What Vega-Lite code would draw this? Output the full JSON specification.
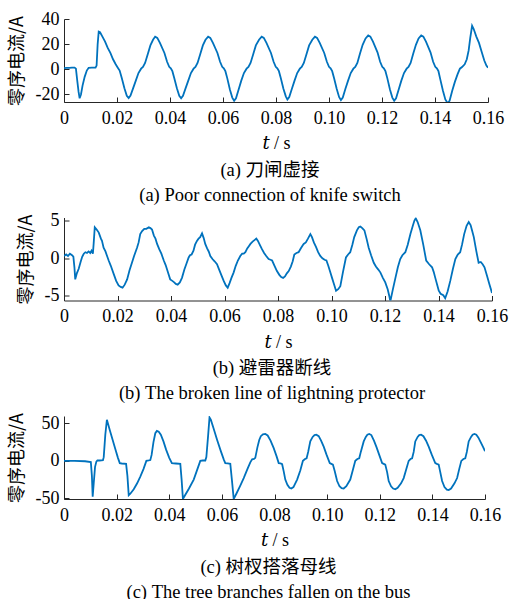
{
"$schema": "https://vega.github.io/schema/vega-lite/v6.json",
"padding": {"top": 10, "left": 8, "right": 5, "bottom": 0},
"spacing": 115.5,
"bounds": "flush",
"datasets": {
"a": [
{"t":0,"i":1},{"t":0.001,"i":1.2},{"t":0.002,"i":1.1},{"t":0.003,"i":1.3},{"t":0.004,"i":1.4},{"t":0.0045,"i":0.5},{"t":0.005,"i":-9},{"t":0.0055,"i":-18},{"t":0.0059,"i":-23},{"t":0.0064,"i":-20},{"t":0.007,"i":-13},{"t":0.0078,"i":-6},{"t":0.0086,"i":-1},{"t":0.0093,"i":1.2},{"t":0.0105,"i":1.3},{"t":0.0119,"i":1.3},{"t":0.0123,"i":3},{"t":0.0127,"i":20},{"t":0.0131,"i":30},{"t":0.0136,"i":29.5},{"t":0.0145,"i":26},{"t":0.0155,"i":22},{"t":0.0165,"i":17},{"t":0.0175,"i":13},{"t":0.0185,"i":8},{"t":0.0195,"i":4},{"t":0.0203,"i":1.3},{"t":0.021,"i":-1},{"t":0.0218,"i":-7},{"t":0.0228,"i":-15},{"t":0.0237,"i":-21},{"t":0.0244,"i":-22.8},
{"t":0.0251,"i":-20.8},{"t":0.0261,"i":-15},{"t":0.0271,"i":-9},{"t":0.0281,"i":-3},{"t":0.0291,"i":0.5},{"t":0.0298,"i":1.8},{"t":0.0306,"i":5},{"t":0.0316,"i":12},{"t":0.0326,"i":19},{"t":0.0336,"i":23.5},{"t":0.0344,"i":26},
{"t":0.0352,"i":25},{"t":0.0362,"i":21},{"t":0.0379,"i":13},{"t":0.0389,"i":6},{"t":0.0397,"i":2},{"t":0.0403,"i":0.8},{"t":0.0409,"i":-1.5},{"t":0.0416,"i":-7},{"t":0.0426,"i":-15},{"t":0.0435,"i":-21},{"t":0.0442,"i":-23},
{"t":0.0449,"i":-21},{"t":0.0459,"i":-15},{"t":0.0469,"i":-9},{"t":0.0479,"i":-3},{"t":0.0489,"i":0.5},{"t":0.0496,"i":1.8},{"t":0.0504,"i":5},{"t":0.0514,"i":12},{"t":0.0524,"i":19},{"t":0.0534,"i":23.5},{"t":0.0544,"i":26},
{"t":0.0552,"i":25},{"t":0.0562,"i":21},{"t":0.0579,"i":13},{"t":0.0589,"i":6},{"t":0.0597,"i":2},{"t":0.0603,"i":0.8},{"t":0.0609,"i":-1.5},{"t":0.0616,"i":-7},{"t":0.0626,"i":-16},{"t":0.0635,"i":-22.5},{"t":0.0642,"i":-25},
{"t":0.0649,"i":-23},{"t":0.0659,"i":-16},{"t":0.0669,"i":-9},{"t":0.0679,"i":-3},{"t":0.0689,"i":0.5},{"t":0.0696,"i":1.8},{"t":0.0704,"i":5},{"t":0.0714,"i":12},{"t":0.0724,"i":19},{"t":0.0736,"i":23.5},{"t":0.0746,"i":26},
{"t":0.0754,"i":25},{"t":0.0764,"i":21},{"t":0.0781,"i":13},{"t":0.0791,"i":6},{"t":0.0799,"i":2},{"t":0.0805,"i":0.8},{"t":0.0811,"i":-1.5},{"t":0.0818,"i":-7},{"t":0.0828,"i":-15.5},{"t":0.0837,"i":-21.5},{"t":0.0843,"i":-24},
{"t":0.085,"i":-22},{"t":0.086,"i":-15.5},{"t":0.087,"i":-9},{"t":0.088,"i":-3},{"t":0.089,"i":0.5},{"t":0.0897,"i":1.8},{"t":0.0905,"i":5},{"t":0.0915,"i":12},{"t":0.0925,"i":19},{"t":0.0937,"i":23.5},{"t":0.0947,"i":26},
{"t":0.0955,"i":25},{"t":0.0965,"i":21},{"t":0.0982,"i":13},{"t":0.0992,"i":6},{"t":0.1,"i":2},{"t":0.1006,"i":0.8},{"t":0.1012,"i":-1.5},{"t":0.1019,"i":-7},{"t":0.1029,"i":-15.5},{"t":0.1038,"i":-22},{"t":0.1045,"i":-24.5},
{"t":0.1052,"i":-22.5},{"t":0.1062,"i":-15.5},{"t":0.1072,"i":-9},{"t":0.1082,"i":-3},{"t":0.1092,"i":0.5},{"t":0.1099,"i":1.8},{"t":0.1107,"i":5},{"t":0.1117,"i":12.5},{"t":0.1127,"i":19.5},{"t":0.1138,"i":24.5},{"t":0.1148,"i":27},
{"t":0.1156,"i":26},{"t":0.1166,"i":22},{"t":0.1183,"i":13.5},{"t":0.1193,"i":6},{"t":0.1201,"i":2},{"t":0.1207,"i":0.8},{"t":0.1213,"i":-1.5},{"t":0.122,"i":-7},{"t":0.123,"i":-16},{"t":0.1239,"i":-22.5},{"t":0.1246,"i":-25},
{"t":0.1253,"i":-23},{"t":0.1263,"i":-16},{"t":0.1273,"i":-9},{"t":0.1283,"i":-3},{"t":0.1293,"i":0.5},{"t":0.13,"i":1.8},{"t":0.1308,"i":5},{"t":0.1318,"i":12.5},{"t":0.1328,"i":19.5},{"t":0.1338,"i":24.5},{"t":0.1348,"i":27},
{"t":0.1356,"i":26},{"t":0.1366,"i":22},{"t":0.1383,"i":13.5},{"t":0.1393,"i":6},{"t":0.1401,"i":2},{"t":0.1407,"i":0.8},{"t":0.1413,"i":-1.5},{"t":0.142,"i":-8},{"t":0.143,"i":-17},{"t":0.1439,"i":-24},{"t":0.1448,"i":-27},
{"t":0.1455,"i":-25},{"t":0.1465,"i":-17},{"t":0.1475,"i":-10},{"t":0.1485,"i":-4},{"t":0.1494,"i":0.5},{"t":0.1502,"i":1.8},{"t":0.1512,"i":4},{"t":0.152,"i":8},{"t":0.1527,"i":15},{"t":0.1533,"i":25},{"t":0.154,"i":34.6},{"t":0.1546,"i":32},{"t":0.1556,"i":26},{"t":0.1566,"i":21},{"t":0.1576,"i":14},{"t":0.1586,"i":7},{"t":0.1594,"i":3},{"t":0.16,"i":1.3}
],
"b": [
{"t":0,"i":0.3},{"t":0.0008,"i":0.5},{"t":0.0015,"i":0.3},{"t":0.0022,"i":0.6},{"t":0.003,"i":0.4},{"t":0.0035,"i":0.2},{"t":0.0039,"i":-1.2},{"t":0.0042,"i":-2.8},{"t":0.0048,"i":-2.0},{"t":0.0055,"i":-1.4},{"t":0.0062,"i":-0.5},{"t":0.0068,"i":0.2},{"t":0.0074,"i":0.6},{"t":0.008,"i":0.8},{"t":0.0086,"i":0.7},{"t":0.0092,"i":0.9},{"t":0.0098,"i":0.7},{"t":0.0103,"i":1.0},{"t":0.0108,"i":0.6},{"t":0.0111,"i":2.0},{"t":0.0115,"i":4.1},{"t":0.0122,"i":3.8},{"t":0.013,"i":3.4},{"t":0.0138,"i":2.6},{"t":0.0142,"i":2.3},{"t":0.0148,"i":1.4},{"t":0.0155,"i":0.9},{"t":0.0161,"i":0.3},{"t":0.0167,"i":-0.3},{"t":0.0175,"i":-1.0},{"t":0.0186,"i":-2.1},{"t":0.0195,"i":-3.0},{"t":0.0204,"i":-3.6},{"t":0.0212,"i":-3.8},{"t":0.0219,"i":-3.9},{"t":0.0227,"i":-3.5},{"t":0.0236,"i":-2.8},{"t":0.0245,"i":-1.6},{"t":0.0254,"i":-0.6},{"t":0.0262,"i":0.3},{"t":0.0273,"i":1.4},{"t":0.0279,"i":2.1},{"t":0.0285,"i":3.2},{"t":0.0292,"i":3.6},{"t":0.03,"i":3.9},{"t":0.0308,"i":3.9},{"t":0.0317,"i":4.1},{"t":0.0323,"i":4.0},{"t":0.0329,"i":3.8},{"t":0.0336,"i":3.0},{"t":0.0342,"i":2.6},{"t":0.0348,"i":1.9},{"t":0.0356,"i":1.2},{"t":0.0364,"i":0.6},{"t":0.0373,"i":-0.3},{"t":0.038,"i":-0.9},{"t":0.0388,"i":-1.8},{"t":0.0397,"i":-2.8},{"t":0.0405,"i":-3.0},{"t":0.0412,"i":-3.2},{"t":0.0418,"i":-3.4},{"t":0.0425,"i":-3.5},{"t":0.0433,"i":-3.2},{"t":0.0441,"i":-2.6},{"t":0.045,"i":-1.5},{"t":0.0458,"i":-0.7},{"t":0.0466,"i":0.1},{"t":0.0471,"i":0.4},{"t":0.0477,"i":0.5},{"t":0.0484,"i":1.0},{"t":0.049,"i":1.8},{"t":0.0497,"i":2.3},{"t":0.0503,"i":2.6},{"t":0.0509,"i":2.8},{"t":0.0516,"i":3.3},{"t":0.0522,"i":2.7},{"t":0.0528,"i":1.9},{"t":0.0535,"i":1.3},{"t":0.0541,"i":0.9},{"t":0.0547,"i":0.3},{"t":0.0555,"i":-0.1},{"t":0.0563,"i":-0.4},{"t":0.0572,"i":-0.8},{"t":0.058,"i":-1.5},{"t":0.0589,"i":-2.3},{"t":0.0597,"i":-3.0},{"t":0.0605,"i":-3.6},{"t":0.0612,"i":-3.9},{"t":0.0619,"i":-3.3},{"t":0.0626,"i":-2.6},{"t":0.0634,"i":-1.9},{"t":0.0642,"i":-1.0},{"t":0.065,"i":-0.3},{"t":0.0659,"i":0.3},{"t":0.0666,"i":0.6},{"t":0.0672,"i":0.6},{"t":0.0678,"i":0.8},{"t":0.0685,"i":1.3},{"t":0.0691,"i":1.6},{"t":0.0697,"i":1.9},{"t":0.0705,"i":2.2},{"t":0.0712,"i":2.4},{"t":0.0719,"i":2.6},{"t":0.0725,"i":2.3},{"t":0.0733,"i":1.7},{"t":0.074,"i":1.2},{"t":0.0748,"i":0.7},{"t":0.0756,"i":0.3},{"t":0.0765,"i":-0.1},{"t":0.0772,"i":-0.2},{"t":0.0778,"i":-0.3},{"t":0.0787,"i":-1.0},{"t":0.0796,"i":-1.7},{"t":0.0805,"i":-2.2},{"t":0.0812,"i":-2.5},{"t":0.0819,"i":-2.6},{"t":0.0826,"i":-2.4},{"t":0.0833,"i":-2.0},{"t":0.084,"i":-1.7},{"t":0.0848,"i":-1.1},{"t":0.0855,"i":-0.4},{"t":0.0861,"i":0.5},{"t":0.0869,"i":0.7},{"t":0.0877,"i":0.8},{"t":0.0885,"i":1.3},{"t":0.0892,"i":1.7},{"t":0.0896,"i":1.9},{"t":0.0904,"i":2.1},{"t":0.0912,"i":2.6},{"t":0.0921,"i":3.2},{"t":0.0927,"i":2.8},{"t":0.0934,"i":2.1},{"t":0.0942,"i":1.5},{"t":0.095,"i":0.8},{"t":0.0958,"i":0.3},{"t":0.0966,"i":0.0},{"t":0.0974,"i":-0.2},{"t":0.0981,"i":-0.3},{"t":0.0988,"i":-1.0},{"t":0.0995,"i":-1.8},{"t":0.1002,"i":-2.6},{"t":0.101,"i":-3.5},{"t":0.1017,"i":-4.3},{"t":0.1025,"i":-4.1},{"t":0.1033,"i":-3.7},{"t":0.1043,"i":-1.8},{"t":0.1054,"i":0.1},{"t":0.1062,"i":0.5},{"t":0.107,"i":0.8},{"t":0.1078,"i":1.8},{"t":0.1085,"i":2.8},{"t":0.1095,"i":3.7},{"t":0.1102,"i":4.1},{"t":0.1108,"i":4.2},{"t":0.1115,"i":4.0},{"t":0.1123,"i":3.7},{"t":0.1131,"i":2.6},{"t":0.1139,"i":1.4},{"t":0.1148,"i":0.4},{"t":0.1158,"i":-0.6},{"t":0.1166,"i":-1.1},{"t":0.1175,"i":-1.5},{"t":0.1183,"i":-1.9},{"t":0.1192,"i":-2.6},{"t":0.1201,"i":-3.2},{"t":0.121,"i":-4.1},{"t":0.1216,"i":-5.0},{"t":0.122,"i":-5.7},{"t":0.1229,"i":-4.2},{"t":0.1239,"i":-2.6},{"t":0.1248,"i":-1.2},{"t":0.1257,"i":-0.1},{"t":0.1265,"i":0.4},{"t":0.1276,"i":0.8},{"t":0.1285,"i":1.8},{"t":0.1295,"i":3.2},{"t":0.1304,"i":4.3},{"t":0.131,"i":5.0},{"t":0.1315,"i":5.3},{"t":0.1322,"i":4.8},{"t":0.1332,"i":3.7},{"t":0.1343,"i":1.8},{"t":0.1354,"i":-0.3},{"t":0.1365,"i":-0.8},{"t":0.1376,"i":-1.2},{"t":0.1382,"i":-1.8},{"t":0.1388,"i":-2.6},{"t":0.1395,"i":-3.5},{"t":0.1401,"i":-4.3},{"t":0.1408,"i":-4.7},{"t":0.1418,"i":-4.9},{"t":0.1425,"i":-5.3},{"t":0.1434,"i":-4.4},{"t":0.1444,"i":-3.0},{"t":0.1454,"i":-1.4},{"t":0.1463,"i":-0.1},{"t":0.1472,"i":0.5},{"t":0.1481,"i":0.8},{"t":0.1488,"i":1.8},{"t":0.1496,"i":3.2},{"t":0.1505,"i":4.3},{"t":0.1513,"i":4.8},{"t":0.152,"i":4.4},{"t":0.1526,"i":3.6},{"t":0.1532,"i":2.8},{"t":0.1541,"i":1.0},{"t":0.155,"i":-0.6},{"t":0.1558,"i":-0.5},{"t":0.1565,"i":-0.8},{"t":0.1572,"i":-1.2},{"t":0.1581,"i":-2.3},{"t":0.159,"i":-3.4},{"t":0.16,"i":-4.6}
],
"c": [
{"t":0,"i":0},{"t":0.004,"i":0},{"t":0.008,"i":-0.5},{"t":0.0102,"i":-1.5},{"t":0.0106,"i":-20},{"t":0.0109,"i":-48},{"t":0.0113,"i":-30},{"t":0.0118,"i":-8},{"t":0.0123,"i":-1},{"t":0.0127,"i":0.5},{"t":0.0135,"i":0.5},{"t":0.0148,"i":0.8},{"t":0.0151,"i":5},{"t":0.0157,"i":35},{"t":0.0163,"i":55},{"t":0.0167,"i":50},{"t":0.0175,"i":40},{"t":0.0185,"i":28},{"t":0.0195,"i":16},{"t":0.0205,"i":4},{"t":0.0212,"i":-3},{"t":0.022,"i":-3.5},{"t":0.0236,"i":-4},{"t":0.0241,"i":-20},{"t":0.0246,"i":-46},{"t":0.0252,"i":-44},{"t":0.0265,"i":-38},{"t":0.0278,"i":-30},{"t":0.029,"i":-21},{"t":0.0302,"i":-11},{"t":0.0313,"i":0},{"t":0.0322,"i":0.5},{"t":0.0328,"i":1},{"t":0.0333,"i":8},{"t":0.034,"i":25},{"t":0.0347,"i":37},{"t":0.0353,"i":40},{"t":0.036,"i":39},{"t":0.0368,"i":35},{"t":0.0378,"i":26},{"t":0.0388,"i":15},{"t":0.04,"i":4},{"t":0.041,"i":-3},{"t":0.0425,"i":-3.5},{"t":0.0442,"i":-4},{"t":0.0447,"i":-25},{"t":0.0452,"i":-51},{"t":0.046,"i":-46},{"t":0.0475,"i":-37},{"t":0.0493,"i":-25},{"t":0.0506,"i":-12},{"t":0.0518,"i":0},{"t":0.0527,"i":0.5},{"t":0.0537,"i":0.5},{"t":0.0541,"i":5},{"t":0.0548,"i":35},{"t":0.0553,"i":58},{"t":0.0558,"i":55},{"t":0.0568,"i":44},{"t":0.0582,"i":28},{"t":0.0596,"i":13},{"t":0.0607,"i":2},{"t":0.0613,"i":-3},{"t":0.0622,"i":-3.5},{"t":0.0632,"i":-4},{"t":0.0638,"i":-25},{"t":0.0645,"i":-51},{"t":0.0655,"i":-44},{"t":0.067,"i":-33},{"t":0.0683,"i":-23},{"t":0.0697,"i":-11},{"t":0.0708,"i":-2},{"t":0.0715,"i":2},{"t":0.0722,"i":2.5},{"t":0.0727,"i":4},{"t":0.0735,"i":18},{"t":0.0742,"i":28},{"t":0.0748,"i":33},{"t":0.0756,"i":35.5},{"t":0.0765,"i":36},{"t":0.0774,"i":34},{"t":0.0785,"i":27},{"t":0.0797,"i":17},{"t":0.0808,"i":6},{"t":0.0816,"i":-3},{"t":0.0823,"i":-3.5},{"t":0.0829,"i":-4.5},{"t":0.0835,"i":-14},{"t":0.0841,"i":-25},{"t":0.0849,"i":-32},{"t":0.0857,"i":-36},{"t":0.0864,"i":-37},{"t":0.0872,"i":-35},{"t":0.0886,"i":-25},{"t":0.0898,"i":-13},{"t":0.0908,"i":0},{"t":0.0916,"i":2.5},{"t":0.0922,"i":3.5},{"t":0.0928,"i":12},{"t":0.0936,"i":26},{"t":0.0945,"i":32},{"t":0.0952,"i":34.5},{"t":0.0959,"i":35},{"t":0.0968,"i":33},{"t":0.0977,"i":27},{"t":0.0987,"i":19},{"t":0.0998,"i":8},{"t":0.101,"i":-3},{"t":0.1016,"i":-4},{"t":0.1022,"i":-5},{"t":0.1029,"i":-14},{"t":0.1038,"i":-27},{"t":0.1047,"i":-34},{"t":0.1055,"i":-36.5},{"t":0.1063,"i":-37},{"t":0.1073,"i":-34},{"t":0.1088,"i":-25},{"t":0.1098,"i":-12},{"t":0.1107,"i":0},{"t":0.1115,"i":2.5},{"t":0.1122,"i":3.5},{"t":0.1128,"i":12},{"t":0.1139,"i":26},{"t":0.1147,"i":32},{"t":0.1153,"i":35},{"t":0.116,"i":36},{"t":0.1168,"i":34.5},{"t":0.1178,"i":27},{"t":0.1188,"i":18},{"t":0.1198,"i":8},{"t":0.1209,"i":-3},{"t":0.1215,"i":-4},{"t":0.1221,"i":-5},{"t":0.1228,"i":-15},{"t":0.1234,"i":-27},{"t":0.1243,"i":-34},{"t":0.1251,"i":-37},{"t":0.1259,"i":-38},{"t":0.1268,"i":-36},{"t":0.1281,"i":-30},{"t":0.1291,"i":-23},{"t":0.1301,"i":-11},{"t":0.131,"i":0},{"t":0.1317,"i":2.5},{"t":0.1323,"i":3.5},{"t":0.1329,"i":12},{"t":0.1335,"i":26},{"t":0.1344,"i":32},{"t":0.135,"i":34.5},{"t":0.1357,"i":35},{"t":0.1366,"i":33},{"t":0.1376,"i":27},{"t":0.1386,"i":19},{"t":0.1398,"i":8},{"t":0.1411,"i":-3},{"t":0.1417,"i":-4},{"t":0.1424,"i":-5},{"t":0.143,"i":-15},{"t":0.1437,"i":-27},{"t":0.1446,"i":-35},{"t":0.1455,"i":-38.5},{"t":0.1462,"i":-39},{"t":0.1471,"i":-37},{"t":0.1484,"i":-30},{"t":0.1494,"i":-23},{"t":0.1502,"i":-11},{"t":0.151,"i":0},{"t":0.1518,"i":2.5},{"t":0.1525,"i":3.5},{"t":0.1531,"i":12},{"t":0.1538,"i":26},{"t":0.1547,"i":32},{"t":0.1553,"i":35},{"t":0.156,"i":36},{"t":0.1567,"i":35},{"t":0.1575,"i":31},{"t":0.1582,"i":26},{"t":0.1592,"i":19},{"t":0.16,"i":13}
]
},
"vconcat": [
{
"width": 424, "height": 83,
"data": {"name": "a"},
"mark": {"type": "line", "color": "#0072BD", "strokeWidth": 1.8, "clip": true},
"encoding": {
"x": {"field": "t", "type": "quantitative", "scale": {"domain": [0, 0.16], "nice": false, "zero": false},
"axis": {"title": "𝑡 / s", "values": [0,0.02,0.04,0.06,0.08,0.1,0.12,0.14,0.16], "labelExpr": "datum.value == 0 ? '0' : format(datum.value, '.2f')"}},
"y": {"field": "i", "type": "quantitative", "scale": {"domain": [-26, 40], "nice": false, "zero": false},
"axis": {"title": "零序电流/A", "values": [-20,0,20,40], "labelExpr": "replace(datum.label, '−', '-')"}}
},
"title": {"text": ["(a) 刀闸虚接", "(a) Poor connection of knife switch"], "orient": "bottom", "dx": -6}
},
{
"width": 428, "height": 83,
"data": {"name": "b"},
"mark": {"type": "line", "color": "#0072BD", "strokeWidth": 1.8, "clip": true},
"encoding": {
"x": {"field": "t", "type": "quantitative", "scale": {"domain": [0, 0.16], "nice": false, "zero": false},
"axis": {"title": "𝑡 / s", "values": [0,0.02,0.04,0.06,0.08,0.1,0.12,0.14,0.16], "labelExpr": "datum.value == 0 ? '0' : format(datum.value, '.2f')"}},
"y": {"field": "i", "type": "quantitative", "scale": {"domain": [-5.6, 5.4], "nice": false, "zero": false},
"axis": {"title": "零序电流/A", "values": [-5,0,5], "labelExpr": "replace(datum.label, '−', '-')"}}
},
"title": {"text": ["(b) 避雷器断线", "(b) The broken line of lightning protector"], "orient": "bottom", "dx": -6}
},
{
"width": 421, "height": 83,
"data": {"name": "c"},
"mark": {"type": "line", "color": "#0072BD", "strokeWidth": 1.8, "clip": true},
"encoding": {
"x": {"field": "t", "type": "quantitative", "scale": {"domain": [0, 0.16], "nice": false, "zero": false},
"axis": {"title": "𝑡 / s", "values": [0,0.02,0.04,0.06,0.08,0.1,0.12,0.14,0.16], "labelExpr": "datum.value == 0 ? '0' : format(datum.value, '.2f')"}},
"y": {"field": "i", "type": "quantitative", "scale": {"domain": [-51, 60], "nice": false, "zero": false},
"axis": {"title": "零序电流/A", "values": [-50,0,50], "labelExpr": "replace(datum.label, '−', '-')"}}
},
"title": {"text": ["(c) 树杈搭落母线", "(c) The tree branches fallen on the bus"], "orient": "bottom", "dx": -6}
}
],
"config": {
"view": {"stroke": null},
"font": "Liberation Serif, DejaVu Serif, Noto Sans CJK SC",
"axis": {
"grid": false,
"domainColor": "#262626", "tickColor": "#262626", "labelColor": "#000000", "titleColor": "#000000",
"labelFont": "Liberation Serif", "labelFontSize": 18,
"titleFont": "Liberation Serif, DejaVu Serif, Noto Sans CJK SC", "titleFontSize": 18, "titleFontWeight": "normal",
"tickSize": -5, "labelPadding": 12, "labelFlush": false, "labelOverlap": false
},
"axisY": {"titleFont": "Noto Sans CJK SC", "titleFontSize": 18, "titlePadding": 9, "labelPadding": 10},
"axisX": {"titlePadding": 7.5},
"title": {"font": "Liberation Serif, Noto Sans CJK SC", "fontSize": 18.5, "fontWeight": "normal", "color": "#000000", "lineHeight": 25, "offset": 8}
}
}
